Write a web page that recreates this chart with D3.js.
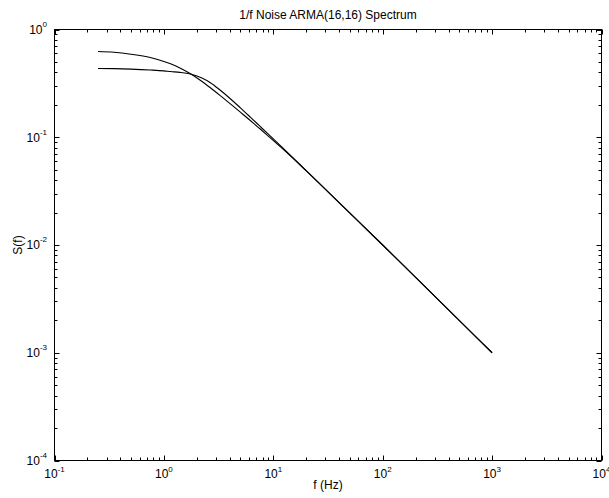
<!DOCTYPE html>
<html>
<head>
<meta charset="utf-8">
<script src="https://cdn.jsdelivr.net/npm/d3@7"></script>
<style>
  body { margin: 0; background: #fff; }
  text { font-family: "Liberation Sans", Arial, sans-serif; fill: #000; }
</style>
</head>
<body>
<div id="chart-area"></div>
<script>
const freq = [0.25, 0.35, 0.5, 0.75, 1.0, 1.15, 1.4, 1.75, 2.2, 2.66, 3.3, 4.0, 5.0, 6.2, 7.5, 9.0, 12, 20, 50, 100, 200, 500, 1000];
// curve that starts higher
const specA = [0.625, 0.615, 0.59, 0.55, 0.505, 0.48, 0.44, 0.389, 0.333, 0.288, 0.242, 0.2064, 0.1709, 0.1423, 0.1205, 0.1026, 0.0792, 0.0488, 0.0198, 0.01, 0.005, 0.002, 0.001];
// curve that starts lower (flat plateau)
const specB = [0.435, 0.433, 0.429, 0.421, 0.413, 0.407, 0.4, 0.386, 0.357, 0.321, 0.2715, 0.2303, 0.1876, 0.1529, 0.1273, 0.1068, 0.0808, 0.049, 0.0199, 0.01, 0.005, 0.002, 0.001];

const xTickExps = [-1, 0, 1, 2, 3, 4];
const yTickExps = [-4, -3, -2, -1, 0];

const width = 609, height = 498;
const box = { left: 54.5, right: 601.5, top: 29.5, bottom: 460.5 };

const x = d3.scaleLog().domain([0.1, 10000]).range([box.left, box.right]);
const y = d3.scaleLog().domain([1e-4, 1]).range([box.bottom, box.top]);

const svg = d3.select('#chart-area').append('svg')
  .attr('width', width)
  .attr('height', height);

// minor tick values for log axes (2..9 in each decade)
const minorVals = (lo, hi) => {
  const out = [];
  for (let e = lo; e < hi; e++) {
    for (let m = 2; m <= 9; m++) out.push(m * Math.pow(10, e));
  }
  return out;
};
const xMinor = minorVals(-1, 4);
const yMinor = minorVals(-4, 0);
const xMajor = xTickExps.map(e => Math.pow(10, e));
const yMajor = yTickExps.map(e => Math.pow(10, e));

const ticks = svg.append('g').attr('stroke', '#000').attr('stroke-width', 1);

// bottom & top ticks (pointing inward)
const xTickLines = (vals, len) => {
  vals.forEach(v => {
    const px = Math.round(x(v)) + 0.5;
    ticks.append('line').attr('x1', px).attr('x2', px).attr('y1', box.bottom).attr('y2', box.bottom - len);
    ticks.append('line').attr('x1', px).attr('x2', px).attr('y1', box.top).attr('y2', box.top + len);
  });
};
xTickLines(xMinor, 3);
xTickLines(xMajor, 5);

// left & right ticks
const yTickLines = (vals, len) => {
  vals.forEach(v => {
    const py = Math.round(y(v)) + 0.5;
    ticks.append('line').attr('y1', py).attr('y2', py).attr('x1', box.left).attr('x2', box.left + len);
    ticks.append('line').attr('y1', py).attr('y2', py).attr('x1', box.right).attr('x2', box.right - len);
  });
};
yTickLines(yMinor, 3);
yTickLines(yMajor, 5);

// axes box
svg.append('rect')
  .attr('x', box.left)
  .attr('y', box.top)
  .attr('width', box.right - box.left)
  .attr('height', box.bottom - box.top)
  .attr('fill', 'none')
  .attr('stroke', '#000')
  .attr('stroke-width', 1);

// x tick labels  10^n
xTickExps.forEach(e => {
  const t = svg.append('text')
    .attr('x', x(Math.pow(10, e)))
    .attr('y', 478)
    .attr('font-size', '12px')
    .attr('text-anchor', 'middle');
  t.append('tspan').text('10');
  t.append('tspan').attr('dy', -6).attr('font-size', '8px').text(e);
});

// y tick labels
yTickExps.forEach(e => {
  const t = svg.append('text')
    .attr('x', 47)
    .attr('y', y(Math.pow(10, e)) + 4.3)
    .attr('font-size', '12px')
    .attr('text-anchor', 'end');
  t.append('tspan').text('10');
  t.append('tspan').attr('dy', -7).attr('font-size', '8px').text(e);
});

// title
svg.append('text')
  .attr('x', (box.left + box.right) / 2)
  .attr('y', 19)
  .attr('font-size', '12px')
  .attr('text-anchor', 'middle')
  .text('1/f Noise ARMA(16,16) Spectrum');

// x axis label
svg.append('text')
  .attr('x', (box.left + box.right) / 2)
  .attr('y', 489)
  .attr('font-size', '12px')
  .attr('text-anchor', 'middle')
  .text('f (Hz)');

// y axis label
svg.append('text')
  .attr('transform', `translate(22, ${(box.top + box.bottom) / 2}) rotate(-90)`)
  .attr('font-size', '12px')
  .attr('text-anchor', 'middle')
  .text('S(f)');

// spectra
const line = d3.line()
  .x(d => x(d[0]))
  .y(d => y(d[1]))
  .curve(d3.curveMonotoneX);

[specA, specB].forEach(spec => {
  svg.append('path')
    .datum(freq.map((f, i) => [f, spec[i]]))
    .attr('fill', 'none')
    .attr('stroke', '#000')
    .attr('stroke-width', 1.1)
    .attr('d', line);
});
</script>
</body>
</html>
